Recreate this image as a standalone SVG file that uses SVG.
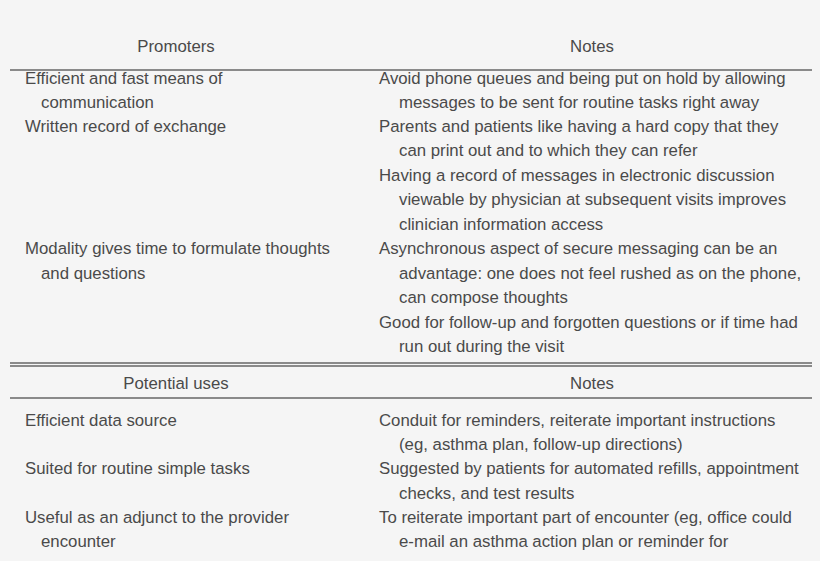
<svg xmlns="http://www.w3.org/2000/svg" width="820" height="561" viewBox="0 0 820 561">
<style>
text{font-family:"Liberation Sans",Arial,sans-serif;font-size:16.8px;fill:#4a4a4a}
.c{text-anchor:middle}
.r{stroke:#666;stroke-width:1.3}
</style>
<rect width="820" height="561" fill="#f5f5f5"/>
<g id="rules">
<line class="r" x1="10" y1="70" x2="812" y2="70"/>
<line class="r" x1="10" y1="363" x2="812" y2="363"/>
<line class="r" x1="10" y1="366" x2="812" y2="366"/>
<line class="r" x1="10" y1="398" x2="812" y2="398"/>
</g>
<g id="table1">
<text class="c" x="176" y="52">Promoters</text>
<text class="c" x="592" y="52">Notes</text>
<text x="25" y="84">Efficient and fast means of</text>
<text x="41" y="108">communication</text>
<text x="25" y="132">Written record of exchange</text>
<text x="25" y="254">Modality gives time to formulate thoughts</text>
<text x="41" y="279">and questions</text>
<text x="379" y="84">Avoid phone queues and being put on hold by allowing</text>
<text x="399" y="108">messages to be sent for routine tasks right away</text>
<text x="379" y="132">Parents and patients like having a hard copy that they</text>
<text x="399" y="156">can print out and to which they can refer</text>
<text x="379" y="181">Having a record of messages in electronic discussion</text>
<text x="399" y="205">viewable by physician at subsequent visits improves</text>
<text x="399" y="230">clinician information access</text>
<text x="379" y="254">Asynchronous aspect of secure messaging can be an</text>
<text x="399" y="279">advantage: one does not feel rushed as on the phone,</text>
<text x="399" y="303">can compose thoughts</text>
<text x="379" y="328">Good for follow-up and forgotten questions or if time had</text>
<text x="399" y="352">run out during the visit</text>
</g>
<g id="table2">
<text class="c" x="176" y="389">Potential uses</text>
<text class="c" x="592" y="389">Notes</text>
<text x="25" y="426">Efficient data source</text>
<text x="25" y="474">Suited for routine simple tasks</text>
<text x="25" y="523">Useful as an adjunct to the provider</text>
<text x="41" y="547">encounter</text>
<text x="379" y="426">Conduit for reminders, reiterate important instructions</text>
<text x="399" y="450">(eg, asthma plan, follow-up directions)</text>
<text x="379" y="474">Suggested by patients for automated refills, appointment</text>
<text x="399" y="499">checks, and test results</text>
<text x="379" y="523">To reiterate important part of encounter (eg, office could</text>
<text x="399" y="547">e-mail an asthma action plan or reminder for</text>
</g>
</svg>
